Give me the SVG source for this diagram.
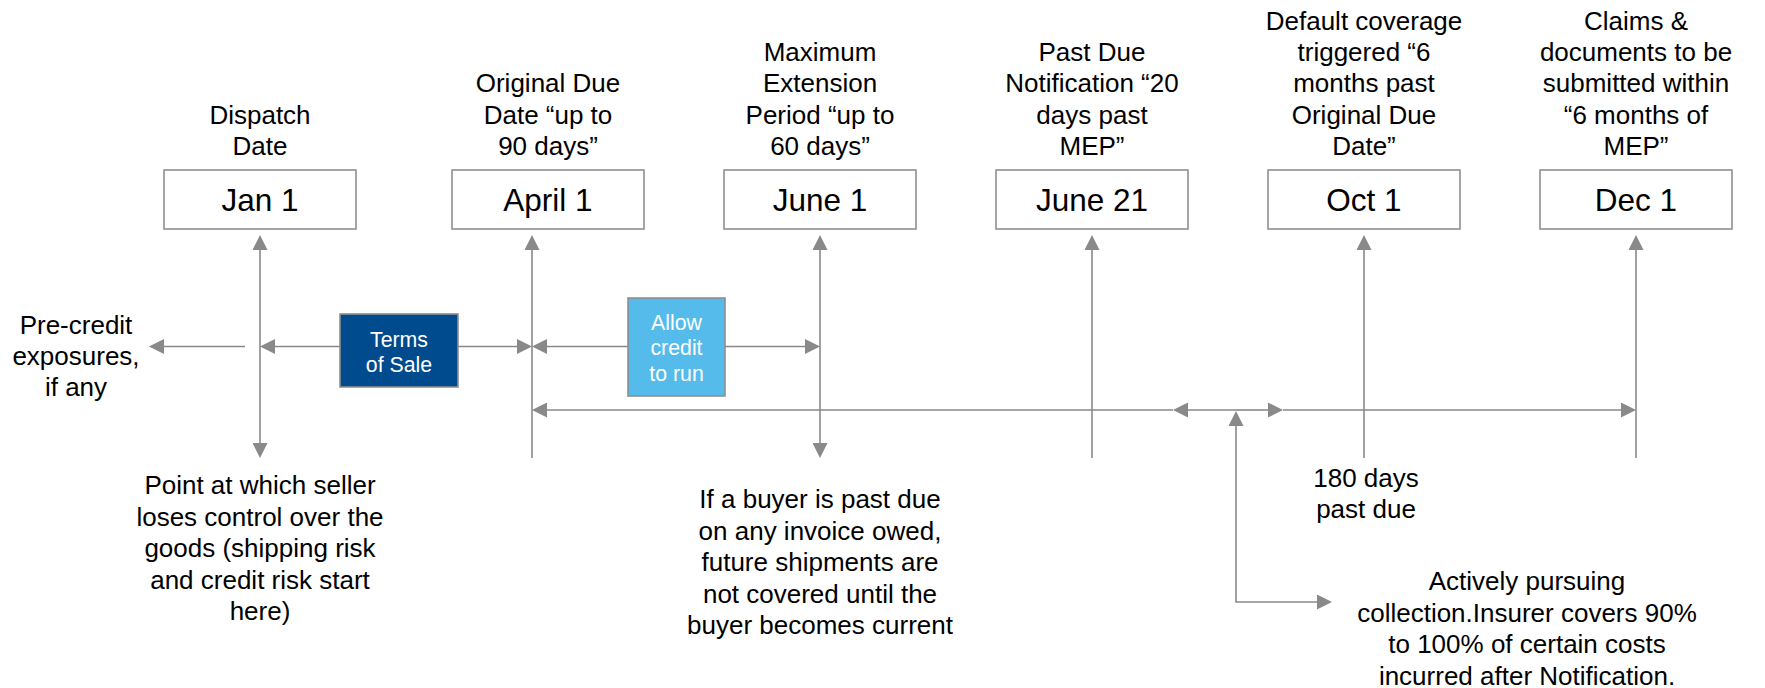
<svg xmlns="http://www.w3.org/2000/svg" width="1765" height="688" viewBox="0 0 1765 688">
<style>
  text { font-family: "Liberation Sans", Arial, sans-serif; fill: #000; text-anchor: middle; }
  .lbl { font-size: 26px; }
  .date { font-size: 31.5px; }
  .inbox { font-size: 21.3px; fill: #fff; }
  .box { fill: #fff; stroke: #8f8f8f; stroke-width: 1.6; }
  .conn { fill: none; stroke: #898989; stroke-width: 1.6; }
</style>
<defs>
  <marker id="ah" markerUnits="userSpaceOnUse" markerWidth="15" markerHeight="15" viewBox="0 0 15 15" refX="0" refY="7.5" orient="auto-start-reverse">
    <path d="M0,0 L15,7.5 L0,15 z" fill="#898989"/>
  </marker>
</defs>
<rect width="1765" height="688" fill="#fff"/>

<g id="connectors">
  <!-- vertical lines -->
  <path class="conn" d="M260,250 V443" marker-start="url(#ah)" marker-end="url(#ah)"/>
  <path class="conn" d="M532,458 V250" marker-end="url(#ah)"/>
  <path class="conn" d="M820,250 V443" marker-start="url(#ah)" marker-end="url(#ah)"/>
  <path class="conn" d="M1092,458 V250" marker-end="url(#ah)"/>
  <path class="conn" d="M1364,458 V250" marker-end="url(#ah)"/>
  <path class="conn" d="M1636,458 V250" marker-end="url(#ah)"/>
  <!-- upper horizontal row -->
  <path class="conn" d="M245,346.5 H164" marker-end="url(#ah)"/>
  <path class="conn" d="M340,346.5 H275" marker-end="url(#ah)"/>
  <path class="conn" d="M458,346.5 H517" marker-end="url(#ah)"/>
  <path class="conn" d="M628,346.5 H547" marker-end="url(#ah)"/>
  <path class="conn" d="M725,346.5 H805" marker-end="url(#ah)"/>
  <!-- lower horizontal row -->
  <path class="conn" d="M1173,410 H547" marker-end="url(#ah)"/>
  <path class="conn" d="M1236,410 H1188" marker-end="url(#ah)"/>
  <path class="conn" d="M1236,410 H1268" marker-end="url(#ah)"/>
  <path class="conn" d="M1283,410 H1621" marker-end="url(#ah)"/>
  <!-- elbow to collection note -->
  <path class="conn" d="M1317,602 H1236 V426" marker-start="url(#ah)" marker-end="url(#ah)"/>
</g>

<g id="node-jan">
  <text class="lbl" x="260" y="124">Dispatch</text>
  <text class="lbl" x="260" y="155">Date</text>
  <rect class="box" x="164" y="170" width="192" height="59"/>
  <text class="date" x="260" y="211">Jan 1</text>
</g>

<g id="node-april">
  <text class="lbl" x="548" y="92.4">Original Due</text>
  <text class="lbl" x="548" y="123.7">Date “up to</text>
  <text class="lbl" x="548" y="155">90 days”</text>
  <rect class="box" x="452" y="170" width="192" height="59"/>
  <text class="date" x="548" y="211">April 1</text>
</g>

<g id="node-june1">
  <text class="lbl" x="820" y="61.1">Maximum</text>
  <text class="lbl" x="820" y="92.4">Extension</text>
  <text class="lbl" x="820" y="123.7">Period “up to</text>
  <text class="lbl" x="820" y="155">60 days”</text>
  <rect class="box" x="724" y="170" width="192" height="59"/>
  <text class="date" x="820" y="211">June 1</text>
</g>

<g id="node-june21">
  <text class="lbl" x="1092" y="61.1">Past Due</text>
  <text class="lbl" x="1092" y="92.4">Notification “20</text>
  <text class="lbl" x="1092" y="123.7">days past</text>
  <text class="lbl" x="1092" y="155">MEP”</text>
  <rect class="box" x="996" y="170" width="192" height="59"/>
  <text class="date" x="1092" y="211">June 21</text>
</g>

<g id="node-oct">
  <text class="lbl" x="1364" y="29.8">Default coverage</text>
  <text class="lbl" x="1364" y="61.1">triggered “6</text>
  <text class="lbl" x="1364" y="92.4">months past</text>
  <text class="lbl" x="1364" y="123.7">Original Due</text>
  <text class="lbl" x="1364" y="155">Date”</text>
  <rect class="box" x="1268" y="170" width="192" height="59"/>
  <text class="date" x="1364" y="211">Oct 1</text>
</g>

<g id="node-dec">
  <text class="lbl" x="1636" y="29.8">Claims &amp;</text>
  <text class="lbl" x="1636" y="61.1">documents to be</text>
  <text class="lbl" x="1636" y="92.4">submitted within</text>
  <text class="lbl" x="1636" y="123.7">“6 months of</text>
  <text class="lbl" x="1636" y="155">MEP”</text>
  <rect class="box" x="1540" y="170" width="192" height="59"/>
  <text class="date" x="1636" y="211">Dec 1</text>
</g>

<g id="node-precredit">
  <text class="lbl" x="76" y="334">Pre-credit</text>
  <text class="lbl" x="76" y="365">exposures,</text>
  <text class="lbl" x="76" y="396">if any</text>
</g>

<g id="node-terms">
  <rect x="340" y="314" width="118" height="73" fill="#004b8d" stroke="#8f8f8f" stroke-width="1.6"/>
  <text class="inbox" x="399" y="347">Terms</text>
  <text class="inbox" x="399" y="372">of Sale</text>
</g>

<g id="node-allow">
  <rect x="628" y="298" width="97" height="98" fill="#55bbea" stroke="#8f8f8f" stroke-width="1.6"/>
  <text class="inbox" x="676.5" y="330">Allow</text>
  <text class="inbox" x="676.5" y="355">credit</text>
  <text class="inbox" x="676.5" y="380.5">to run</text>
</g>

<g id="node-point">
  <text class="lbl" x="260" y="494">Point at which seller</text>
  <text class="lbl" x="260" y="525.5">loses control over the</text>
  <text class="lbl" x="260" y="557">goods (shipping risk</text>
  <text class="lbl" x="260" y="588.5">and credit risk start</text>
  <text class="lbl" x="260" y="620">here)</text>
</g>

<g id="node-buyer">
  <text class="lbl" x="820" y="508">If a buyer is past due</text>
  <text class="lbl" x="820" y="539.5">on any invoice owed,</text>
  <text class="lbl" x="820" y="571">future shipments are</text>
  <text class="lbl" x="820" y="602.5">not covered until the</text>
  <text class="lbl" x="820" y="634">buyer becomes current</text>
</g>

<g id="node-180">
  <text class="lbl" x="1366" y="486.5">180 days</text>
  <text class="lbl" x="1366" y="518">past due</text>
</g>

<g id="node-collection">
  <text class="lbl" x="1527" y="590">Actively pursuing</text>
  <text class="lbl" x="1527" y="621.5">collection.Insurer covers 90%</text>
  <text class="lbl" x="1527" y="653">to 100% of certain costs</text>
  <text class="lbl" x="1527" y="684.5">incurred after Notification.</text>
</g>
</svg>
